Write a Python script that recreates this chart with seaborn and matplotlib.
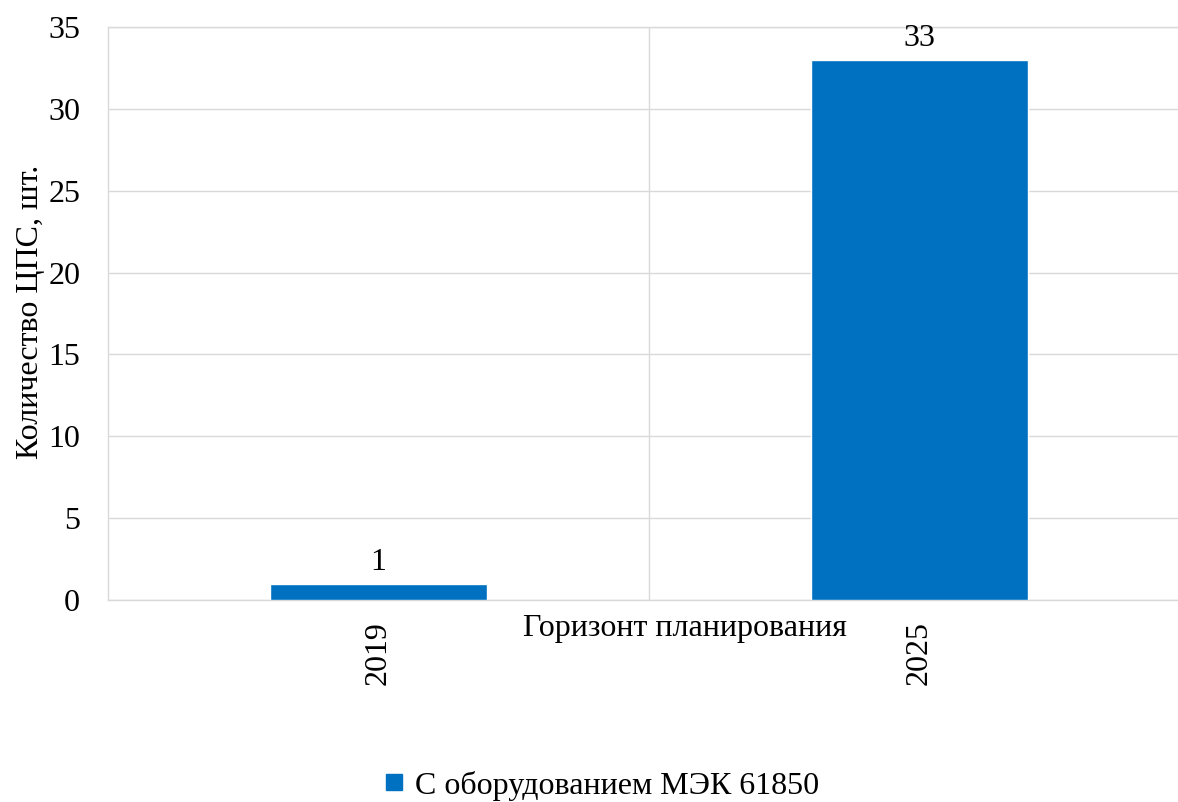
import pandas as pd
import matplotlib.pyplot as plt
import seaborn as sns
from matplotlib.lines import Line2D

# Data
years = ['2019', '2025']
counts = [1, 33]
series_name = 'С оборудованием МЭК 61850'

df = pd.DataFrame({'year': years, 'count': counts})

sns.set_style('white')
plt.rcParams['font.family'] = ['Liberation Serif', 'DejaVu Serif']
plt.rcParams['text.color'] = 'black'
plt.rcParams['axes.labelcolor'] = 'black'
plt.rcParams['xtick.color'] = 'black'
plt.rcParams['ytick.color'] = 'black'

fs = 23

fig = plt.figure(figsize=(11.78, 8.02), dpi=100)
# plot area runs a little past the right edge, like in the original picture
ax = fig.add_axes([0.0917, 0.2519, 0.9185, 0.7144])

sns.barplot(x='year', y='count', data=df, color='#0070C0', width=0.4, saturation=1, ax=ax, zorder=3)

# labels above bars
for cont in ax.containers:
    ax.bar_label(cont, fontsize=fs, padding=5)

ax.set_ylim(0, 35)
ax.set_yticks(range(0, 36, 5))
ax.set_xlim(-0.5, 1.5)

grid_col = '#D9D9D9'
ax.grid(axis='y', color=grid_col, linewidth=1.0, zorder=0)
ax.set_xticks([0.5], minor=True)
ax.grid(axis='x', which='minor', color=grid_col, linewidth=1.0, zorder=0)
for s in ax.spines.values():
    s.set_color(grid_col)
    s.set_linewidth(1.0)

ax.tick_params(axis='y', length=0, labelsize=fs, pad=20)
ax.tick_params(axis='x', which='both', length=0, labelsize=fs, pad=15)
plt.setp(ax.get_xticklabels(), rotation=90)

ax.set_xlabel('Горизонт планирования', fontsize=fs)
ax.xaxis.set_label_coords(0.533, -0.024)
ax.set_ylabel('Количество ЦПС, шт.', fontsize=fs)
ax.yaxis.set_label_coords(-0.058, 0.503)

handle = Line2D([], [], marker='s', linestyle='none', color='#0070C0', markersize=12)
fig.legend([handle], [series_name], loc='lower center', bbox_to_anchor=(0.51, -0.034),
           frameon=False, fontsize=fs, handlelength=0.7, handletextpad=0.3)

plt.savefig('out.png', dpi=100)
